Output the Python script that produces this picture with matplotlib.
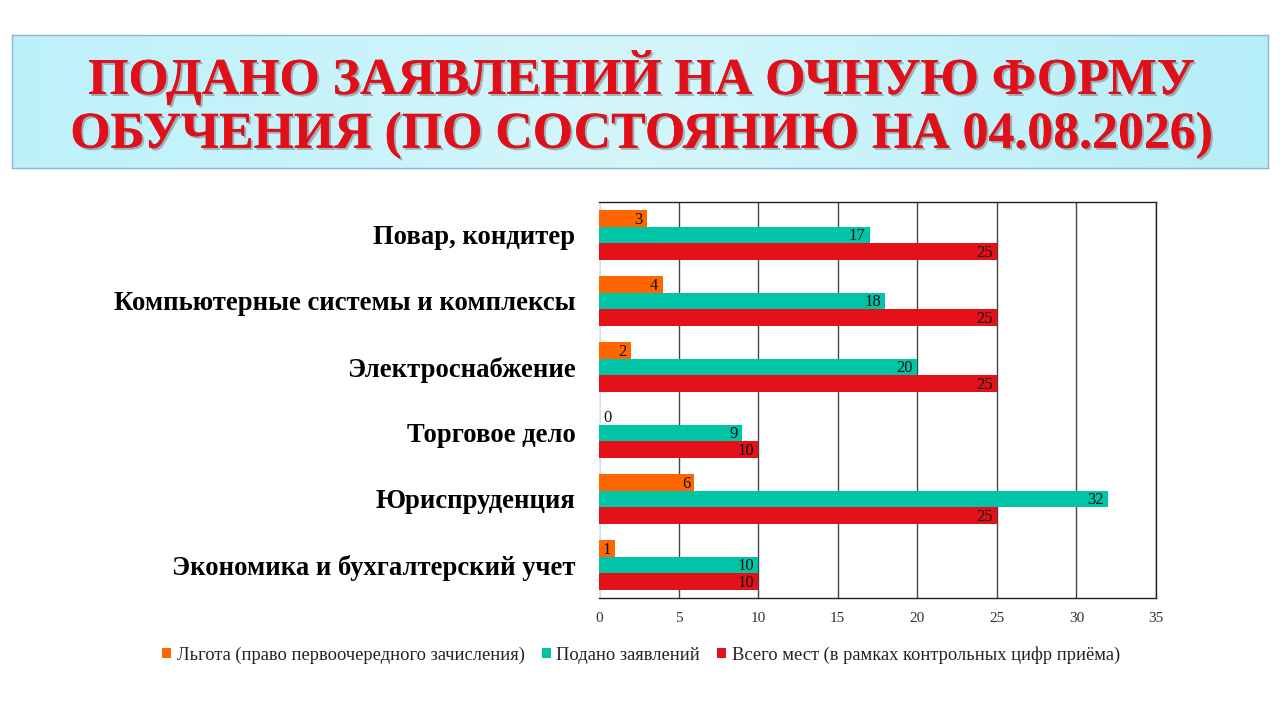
import matplotlib.pyplot as plt
import matplotlib.patheffects as pe
import numpy as np

categories = [
    "Повар, кондитер",
    "Компьютерные системы и комплексы",
    "Электроснабжение",
    "Торговое дело",
    "Юриспруденция",
    "Экономика и бухгалтерский учет",
]
lgota = [3, 4, 2, 0, 6, 1]
podano = [17, 18, 20, 9, 32, 10]
vsego = [25, 25, 25, 10, 25, 10]
series_names = [
    "Льгота (право первоочередного зачисления)",
    "Подано заявлений",
    "Всего мест (в рамках контрольных цифр приёма)",
]
xticks = [0, 5, 10, 15, 20, 25, 30, 35]

colors = ["#FF6600", "#00C4A6", "#E3121A"]
serif = ["Liberation Serif", "DejaVu Serif"]
plt.rcParams["font.family"] = serif

fig = plt.figure(figsize=(12.8, 7.2), dpi=100)

# title box with soft cyan gradient
bg = fig.add_axes([12 / 1280, 1 - 168 / 720, 1256 / 1280, 133 / 720])
grad = np.linspace(0, 1, 256).reshape(1, -1)
bg.imshow(grad, aspect="auto", cmap=plt.matplotlib.colors.LinearSegmentedColormap.from_list(
    "c", ["#BDF1FA", "#D4F6FB", "#B6EEF8"]), extent=[0, 1, 0, 1])
bg.set_xticks([])
bg.set_yticks([])
for s in bg.spines.values():
    s.set_color("#8FB4D0")
    s.set_linewidth(1)

shadow = [pe.withSimplePatchShadow(offset=(1.5, -1.5), shadow_rgbFace="#666666", alpha=0.45), pe.Normal()]
title_lines = ["ПОДАНО ЗАЯВЛЕНИЙ НА ОЧНУЮ ФОРМУ", "ОБУЧЕНИЯ (ПО СОСТОЯНИЮ НА 04.08.2026)"]
for line, yy in zip(title_lines, [1 - 77 / 720, 1 - 135 / 720]):
    fig.text(641 / 1280, yy, line, ha="center", va="center", fontsize=37.3, fontweight="bold",
             color="#E0101A", path_effects=shadow)

ax = fig.add_axes([599 / 1280, 1 - 598 / 720, 557 / 1280, 396 / 720])
y = np.arange(len(categories))
h = 0.25
data = [lgota, podano, vsego]
offsets = [-h, 0, h]
for vals, off, col, name in zip(data, offsets, colors, series_names):
    bars = ax.barh(y + off, vals, height=h, color=col, label=name, zorder=3)
    for rect, v in zip(bars, vals):
        yc = rect.get_y() + rect.get_height() / 2
        if v > 0:
            ax.annotate(str(v), (v, yc), xytext=(-3, -1), textcoords="offset points",
                        ha="right", va="center", fontsize=12, color="#111111", zorder=4)
        else:
            ax.annotate(str(v), (v, yc), xytext=(3, -1), textcoords="offset points",
                        ha="left", va="center", fontsize=12, color="#111111", zorder=4)

ax.set_xlim(0, 35)
ax.set_ylim(len(categories) - 0.5, -0.5)
ax.set_xticks(xticks)
ax.set_yticks(y)
ax.set_yticklabels(categories, fontsize=19.2, fontweight="bold")
ax.tick_params(axis="y", length=0, pad=17)
ax.tick_params(axis="x", length=0, pad=10, labelsize=11, labelcolor="#333333")
ax.grid(axis="x", color="#444444", linewidth=1, zorder=0)
for side in ["top", "right", "bottom"]:
    ax.spines[side].set_color("#222222")
    ax.spines[side].set_linewidth(1)
ax.spines["left"].set_color("#DDEEEE")

fig.legend(loc="center", bbox_to_anchor=(641 / 1280, 1 - 655 / 720), ncol=3, frameon=False,
           fontsize=13.3, handlelength=0.5, handleheight=0.5, handletextpad=0.3, columnspacing=0.9,
           labelcolor="#222222")

fig.savefig("out.png", dpi=100)
